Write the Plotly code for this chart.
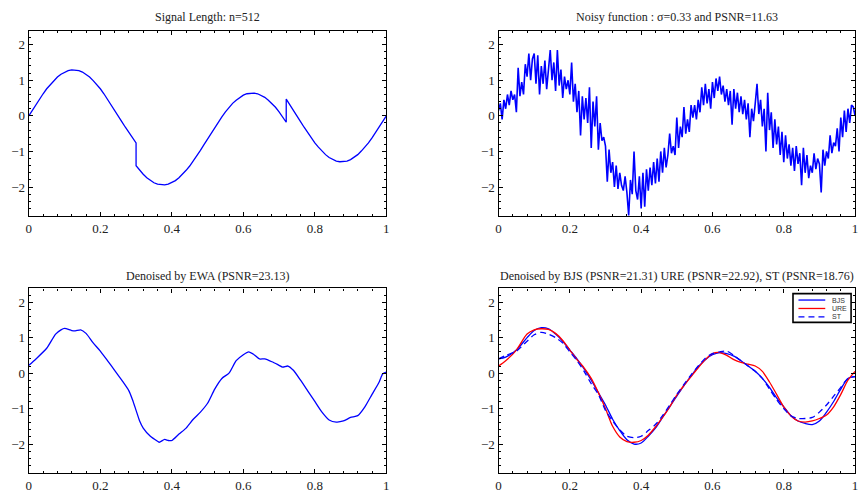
import numpy as np
import plotly.graph_objects as go

# ---------------- data ----------------
# clean HeaviSine-like signal, with jump points duplicated
t_clean = [i / 100 for i in range(0, 31)] + [0.30] + [i / 100 for i in range(31, 73)] + [0.72] + [i / 100 for i in range(73, 101)]
y_clean = [0, .16, .32, .47, .62, .76, .88, .99, 1.09, 1.17, 1.23, 1.27, 1.29, 1.29, 1.27, 1.23, 1.17, 1.09, .99, .88,
           .76, .62, .47, .32, .16, 0, -.16, -.32, -.47, -.62, -.76,
           -1.40,
           -1.53, -1.64, -1.74, -1.82, -1.88, -1.92, -1.94, -1.94, -1.92, -1.88, -1.82, -1.74, -1.64, -1.53, -1.41,
           -1.27, -1.12, -.97, -.81, -.65, -.49, -.33, -.18, -.03, .11, .24, .35, .44, .52, .58, .62, .64, .64, .62,
           .58, .52, .44, .35, .24, .11, -.03, -.18,
           .47,
           .32, .16, 0, -.16, -.32, -.47, -.62, -.76, -.88, -.99, -1.09, -1.17, -1.23, -1.27, -1.29, -1.29, -1.27,
           -1.23, -1.17, -1.09, -.99, -.88, -.76, -.62, -.47, -.32, -.16, 0]

# noisy observations (one every 0.005)
y_noisy = [0.15, 0.35, -0.1, 0.45, 0.2, 0.6, 0.3, 0.7, 0.45, 0.6,
           0.1, 1.35, 0.55, 0.95, 0.6, 1.45, 1.1, 1.75, 1.0, 1.6,
           1.75, 0.9, 1.7, 0.6, 1.4, 0.9, 1.55, 0.75, 1.3, 1.85,
           1.0, 1.5, 0.7, 1.85, 0.85, 1.3, 0.5, 1.1, 0.75, 1.0,
           0.6, 1.5, 0.4, 0.9, 0.1, 0.7, -0.55, 0.55, -0.1, 0.5,
           -0.2, 0.8, -0.9, 0.4, -0.3, 0.55, -0.95, -0.2, -0.7, -0.6,
           -0.85, -1.85, -0.95, -1.6, -1.3, -2.0, -1.4, -2.05, -1.6, -1.95,
           -2.1, -1.7, -2.15, -2.8, -1.8, -2.2, -1.0, -2.1, -2.35, -1.7,
           -2.6, -1.6, -2.55, -1.5, -2.1, -1.45, -1.95, -1.3, -1.9, -1.2,
           -1.85, -1.0, -1.6, -0.9, -1.45, -1.1, -0.5, -1.05, -0.85, -1.1,
           -0.05, -0.9, -0.3, -0.6, 0.25, -0.5, -0.1, -0.45, 0.3, -0.05,
           0.3, -0.1, 0.45, 0.1, 0.8, 0.3, 0.9, 0.35, 0.75, 0.2,
           0.95, 0.5, 1.05, 0.7, 1.1, 0.6, 0.85, 0.4, 0.75, 0.3,
           0.7, -0.25, 0.75, 0.2, 0.65, 0.1, 0.55, 0.05, 0.45, -0.1,
           0.35, -0.6, 0.2, -0.15, 0.35, 0.9, 0.05, 0.45, -0.3, 0.2,
           -1.0, 0.65, -0.4, 0.1, -0.9, -0.1, -0.8, -0.3, -1.1, -0.45,
           -1.3, -0.55, -1.2, -0.8, -1.4, -0.9, -1.55, -0.85, -1.35, -1.05,
           -1.95, -0.9, -1.6, -1.1, -1.75, -1.4, -1.6, -1.05, -1.5, -1.2,
           -1.35, -2.15, -0.95, -1.4, -1.0, -1.2, -0.55, -1.05, -0.75, -0.85,
           -0.35, -1.0, -0.05, -0.6, 0.15, -0.45, 0.2, -0.2, 0.3, 0.25, 0.0]
t_noisy = np.linspace(0, 1, len(y_noisy))

# EWA estimate
t_ewa = [0, .02, .05, .075, .09, .10, .12, .13, .145, .16, .18, .20, .22, .24, .26, .28, .29, .30, .31, .32, .34,
         .36, .365, .38, .39, .40, .42, .44, .46, .48, .50, .52, .54, .56, .58, .60, .615, .63, .645, .66, .68, .70,
         .71, .725, .74, .76, .78, .80, .82, .84, .86, .88, .90, .92, .94, .96, .98, .99, 1.0]
y_ewa = [0.22, 0.4, 0.7, 1.1, 1.22, 1.26, 1.2, 1.19, 1.22, 1.12, 0.85, 0.62, 0.35, 0.08, -0.2, -0.5, -0.75, -1.05,
         -1.35, -1.55, -1.78, -1.92, -1.95, -1.87, -1.9, -1.9, -1.72, -1.55, -1.3, -1.1, -0.85, -0.45, -0.15, 0.0,
         0.35, 0.52, 0.6, 0.52, 0.4, 0.4, 0.32, 0.22, 0.17, 0.2, 0.08, -0.2, -0.5, -0.8, -1.1, -1.32, -1.38, -1.35,
         -1.25, -1.2, -0.95, -0.6, -0.25, -0.02, 0.03]

# BJS / URE / ST estimates
t_est = [0, .02, .05, .08] + [i / 100 for i in range(10, 101, 2)]
y_bjs = [0.4, 0.45, 0.65, 1.0, 1.2, 1.28, 1.25, 1.1, 0.9, 0.65, 0.4, 0.12, -0.2, -0.55, -0.9, -1.3, -1.62, -1.88,
         -2.0, -1.97, -1.78, -1.55, -1.25, -0.95, -0.65, -0.35, -0.08, 0.18, 0.38, 0.52, 0.58, 0.55, 0.48, 0.35,
         0.2, 0.05, -0.15, -0.4, -0.7, -0.95, -1.2, -1.35, -1.42, -1.45, -1.35, -1.1, -0.8, -0.45, -0.15, -0.1]
y_ure = [0.2, 0.35, 0.65, 1.1, 1.22, 1.25, 1.23, 1.12, 0.92, 0.65, 0.38, 0.15, -0.15, -0.55, -1.0, -1.5, -1.8,
         -1.93, -1.95, -1.9, -1.75, -1.52, -1.25, -0.95, -0.62, -0.35, -0.1, 0.15, 0.38, 0.55, 0.58, 0.5, 0.38,
         0.3, 0.25, 0.2, 0.05, -0.25, -0.6, -0.95, -1.2, -1.35, -1.38, -1.35, -1.28, -1.18, -0.95, -0.6, -0.2, 0.05]
y_st = [0.4, 0.5, 0.62, 0.9, 1.08, 1.15, 1.1, 1.0, 0.85, 0.6, 0.35, 0.05, -0.3, -0.6, -1.05, -1.35, -1.6, -1.78,
        -1.82, -1.78, -1.62, -1.45, -1.2, -0.9, -0.6, -0.32, -0.05, 0.2, 0.42, 0.55, 0.6, 0.62, 0.5, 0.35, 0.2,
        0.05, -0.15, -0.45, -0.75, -1.0, -1.2, -1.28, -1.28, -1.25, -1.1, -0.9, -0.65, -0.4, -0.15, -0.1]

titles = ["Signal Length: n=512",
          "Noisy function : σ=0.33 and PSNR=11.63",
          "Denoised by EWA (PSNR=23.13)",
          "Denoised by BJS (PSNR=21.31) URE (PSNR=22.92), ST (PSNR=18.76)"]
legend_names = ["BJS", "URE", "ST"]

# ---------------- figure ----------------
W, H = 867, 493
BLUE, RED = "#0000ff", "#ff0000"
SERIF = "Liberation Serif, Times New Roman, serif"
SANS = "Liberation Sans, Arial, sans-serif"
est_styles = [dict(color=BLUE, dash="solid"), dict(color=RED, dash="solid"), dict(color=BLUE, dash="6px,4px")]

fig = go.Figure()
fig.add_trace(go.Scatter(x=t_clean, y=y_clean, mode="lines", line=dict(color=BLUE, width=1.3),
                         xaxis="x", yaxis="y", showlegend=False))
fig.add_trace(go.Scatter(x=t_noisy, y=y_noisy, mode="lines", line=dict(color=BLUE, width=1.6),
                         xaxis="x2", yaxis="y2", showlegend=False))
fig.add_trace(go.Scatter(x=t_ewa, y=y_ewa, mode="lines", line=dict(color=BLUE, width=1.3, shape="spline", smoothing=0.6),
                         xaxis="x3", yaxis="y3", showlegend=False))
for name, yv, st in zip(legend_names, [y_bjs, y_ure, y_st], est_styles):
    fig.add_trace(go.Scatter(x=t_est, y=yv, mode="lines", name=name, showlegend=False,
                             line=dict(color=st["color"], dash=st["dash"], width=1.3, shape="spline", smoothing=0.8),
                             xaxis="x4", yaxis="y4"))

xdoms = [[26 / W, 386 / W], [499 / W, 858 / W]]
ydoms = [[1 - 218 / H, 1 - 31 / H], [1 - 477 / H, 1 - 290.7 / H]]
YR = [-2.82, 2.39]

layout = dict(width=W, height=H, margin=dict(l=0, r=0, t=0, b=0),
              paper_bgcolor="white", plot_bgcolor="white", showlegend=False,
              font=dict(family=SERIF, size=12, color="#222"))
annotations = []
shapes = []
for i in range(4):
    row, col = divmod(i, 2)
    sfx = "" if i == 0 else str(i + 1)
    common = dict(showgrid=False, zeroline=False, showline=True, linecolor="black", linewidth=1.4,
                  mirror="ticks", ticks="inside", ticklen=4, tickwidth=1, tickcolor="black",
                  tickfont=dict(family=SERIF, size=13, color="#222"))
    layout["xaxis" + sfx] = dict(common, domain=xdoms[col], range=[0, 1], dtick=0.2, tick0=0,
                                 anchor="y" + sfx,
                                 minor=dict(dtick=0.04, ticklen=2, ticks="inside", tickcolor="black"))
    layout["yaxis" + sfx] = dict(common, domain=ydoms[row], range=YR, dtick=1, tick0=0,
                                 anchor="x" + sfx,
                                 minor=dict(dtick=0.2, ticklen=2, ticks="inside", tickcolor="black"))
    annotations.append(dict(text=titles[i], xref="paper", yref="paper",
                            x=(xdoms[col][0] + xdoms[col][1]) / 2,
                            y=1 - (17 if row == 0 else 278.3) / H,
                            xanchor="center", yanchor="middle", showarrow=False,
                            font=dict(family=SERIF, size=12, color="#222")))

# compact MATLAB-style legend box (paper coordinates)
lx0, lx1, ly0, ly1 = 795.5 / W, 854 / W, 1 - 325 / H, 1 - 296 / H
shapes.append(dict(type="rect", xref="paper", yref="paper", x0=lx0, x1=lx1, y0=ly0, y1=ly1,
                   line=dict(color="black", width=1.6), fillcolor="white", layer="above"))
row_y = [302.5, 311, 319.5]
for name, st, ry in zip(legend_names, est_styles, row_y):
    shapes.append(dict(type="line", xref="paper", yref="paper", x0=801 / W, x1=828 / W,
                       y0=1 - ry / H, y1=1 - ry / H, layer="above",
                       line=dict(color=st["color"], width=1.3, dash=st["dash"])))
    annotations.append(dict(text=name, xref="paper", yref="paper", x=833 / W, y=1 - ry / H,
                            xanchor="left", yanchor="middle", showarrow=False,
                            font=dict(family=SANS, size=7, color="#333")))
layout["annotations"] = annotations
layout["shapes"] = shapes
fig.update_layout(**layout)
fig.write_html("out.html")
